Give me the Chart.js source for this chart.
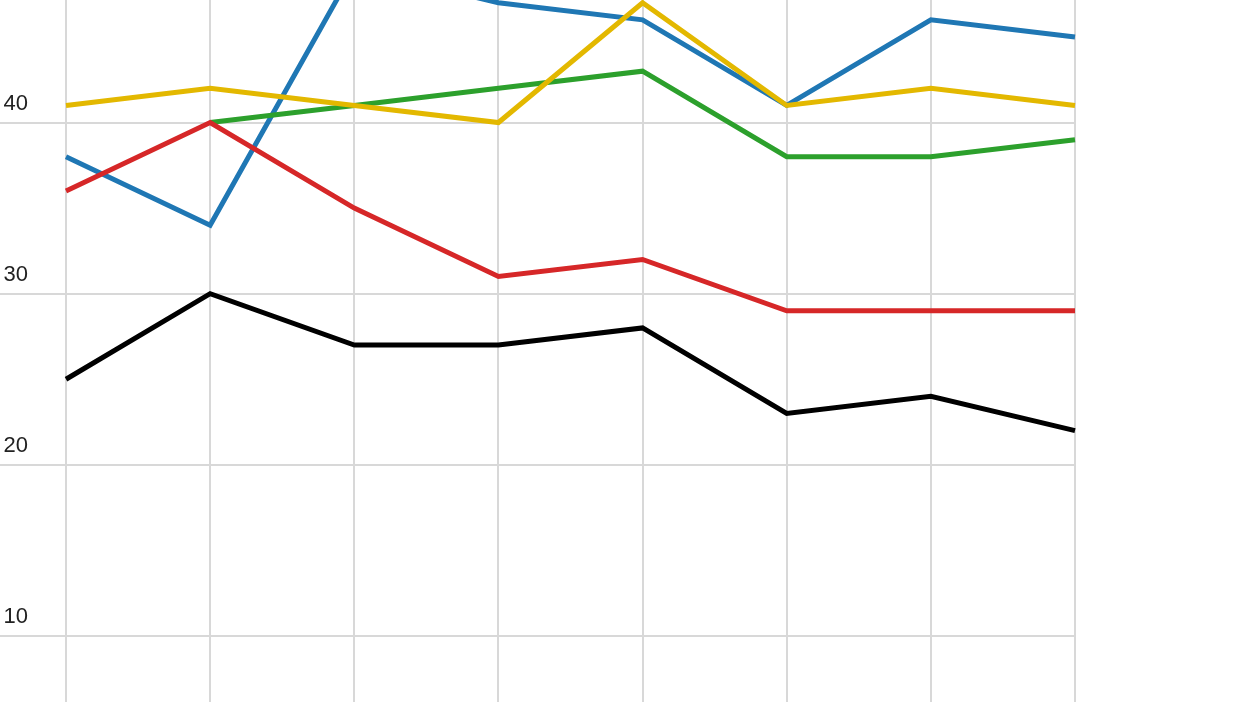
<!DOCTYPE html>
<html>
<head>
<meta charset="utf-8">
<script src="https://cdn.jsdelivr.net/npm/chart.js@4"></script>
<style>
    html, body { margin: 0; padding: 0; background: #fff; }
    #wrap { width: 1245px; height: 702px; }
</style>
</head>
<body>
<div id="wrap"><canvas id="chart"></canvas></div>
<script>
var categories = ["1", "2", "3", "4", "5", "6", "7", "8"];
var blueValues = [38, 34, 49, 47, 46, 41, 46, 45];
var yellowValues = [41, 42, 41, 40, 47, 41, 42, 41];
var greenValues = [null, 40, 41, 42, 43, 38, 38, 39];
var redValues = [36, 40, 35, 31, 32, 29, 29, 29];
var blackValues = [25, 30, 27, 27, 28, 23, 24, 22];
var yTicks = [10, 20, 30, 40];

function series(data, color) {
    return {
        data: data,
        borderColor: color,
        backgroundColor: color,
        borderWidth: 5,
        pointRadius: 0,
        pointHoverRadius: 0,
        tension: 0,
        fill: false,
        spanGaps: false
    };
}

var ctx = document.getElementById("chart");
var lineChart = new Chart(ctx, {
    type: 'line',
    data: {
        labels: categories,
        datasets: [
            series(redValues, '#d62728'),
            series(yellowValues, '#e3b800'),
            series(greenValues, '#2ca02c'),
            series(blueValues, '#1f77b4'),
            series(blackValues, '#000000')
        ]
    },
    options: {
        responsive: true,
        maintainAspectRatio: false,
        animation: false,
        layout: {
            padding: { left: 0, right: 170, top: 0, bottom: 0 }
        },
        plugins: {
            legend: { display: false },
            tooltip: { enabled: false }
        },
        scales: {
            x: {
                grid: { color: '#d8d8d8', lineWidth: 2, drawTicks: false },
                border: { display: false },
                ticks: { display: false }
            },
            y: {
                min: 6.14,
                max: 47.16,
                grid: { color: '#d8d8d8', lineWidth: 2, tickLength: 66 },
                border: { display: false },
                afterBuildTicks: function (scale) {
                    scale.ticks = yTicks.map(function (v) { return { value: v }; });
                },
                afterFit: function (scale) {
                    scale.width = 66;
                    scale.paddingTop = 0;
                    scale.paddingBottom = 0;
                },
                ticks: {
                    crossAlign: 'near',
                    padding: -28,
                    labelOffset: -19,
                    color: '#222222',
                    font: { family: 'Liberation Sans', size: 22 }
                }
            }
        }
    }
});
</script>
</body>
</html>
